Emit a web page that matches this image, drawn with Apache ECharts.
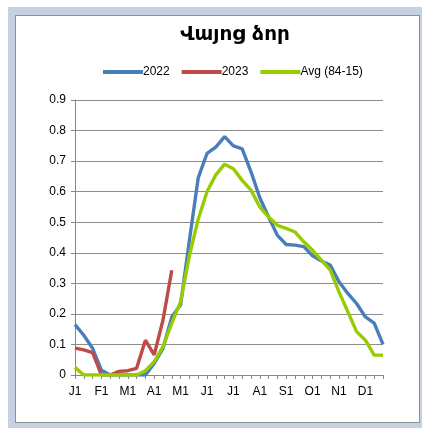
<!DOCTYPE html>
<html>
<head>
<meta charset="utf-8">
<script src="https://cdn.jsdelivr.net/npm/echarts@6/dist/echarts.min.js"></script>
<style>
  html, body { margin: 0; padding: 0; background: #ffffff; }
  #frame { position: absolute; left: 8px; top: 7px; width: 414px; height: 421px; background: #c6d1e1; }
  #panel { position: absolute; left: 15px; top: 15px; width: 403px; height: 406px; background: #ffffff; border: 1px solid #8e9297; }
  #chart { position: absolute; left: 0; top: 0; width: 422px; height: 428px; }
</style>
</head>
<body>
<div id="frame"></div>
<div id="panel"></div>
<div id="chart"></div>
<script>
const titleText = "Վայոց ձոր";
const categories = ["J1","J11","J21","F1","F11","F21","M1","M11","M21","A1","A11","A21",
                    "M1","M11","M21","J1","J11","J21","J1","J11","J21","A1","A11","A21",
                    "S1","S11","S21","O1","O11","O21","N1","N11","N21","D1","D11","D21"];
const yTicks = [0, 0.1, 0.2, 0.3, 0.4, 0.5, 0.6, 0.7, 0.8, 0.9];
const s2022 = [0.165,0.13,0.087,0.016,0,0,0,0,0,0.038,0.087,0.19,
               0.23,0.44,0.645,0.725,0.746,0.78,0.75,0.74,0.665,0.58,0.517,0.457,
               0.427,0.425,0.42,0.39,0.373,0.36,0.305,0.267,0.234,0.19,0.17,0.1];
const s2023 = [0.088,0.082,0.073,0,0,0.012,0.014,0.022,0.114,0.066,0.18,0.343];
const sAvg  = [0.025,0,0,0,0,0,0,0,0.014,0.044,0.093,0.17,
               0.24,0.39,0.51,0.6,0.655,0.69,0.675,0.637,0.605,0.55,0.517,0.49,
               0.48,0.468,0.436,0.408,0.376,0.343,0.272,0.207,0.142,0.114,0.065,0.065];
const names = ["2022", "2023", "Avg (84-15)"];
const colors = ["#4a7ebb", "#be4b48", "#99cc00"];

const chart = echarts.init(document.getElementById('chart'), null, {renderer: 'canvas'});
const font = "'Liberation Sans', Arial, sans-serif";
chart.setOption({
  animation: false,
  backgroundColor: 'transparent',
  title: {
    text: titleText,
    left: 230, top: 20, textAlign: 'center',
    textStyle: { fontFamily: "'DejaVu Sans', sans-serif", fontWeight: 'bold', fontSize: 20, color: '#000' }
  },
  legend: {
    left: 98, top: 61,
    itemWidth: 40, itemHeight: 4, itemGap: 12,
    icon: 'rect',
    data: names,
    textStyle: { fontFamily: font, fontSize: 12, color: '#000', padding: [0,0,0,-5] }
  },
  grid: { left: 75, top: 100, width: 308, height: 275, containLabel: false },
  xAxis: {
    type: 'category',
    data: categories,
    boundaryGap: false,
    axisLine: { lineStyle: { color: '#868686', width: 1 } },
    axisTick: { show: true, interval: 0, length: 4, lineStyle: { color: '#868686' } },
    axisLabel: { interval: 2, margin: 11, fontFamily: font, fontSize: 12, color: '#000' },
    splitLine: { show: false }
  },
  yAxis: {
    type: 'value',
    min: yTicks[0], max: yTicks[yTicks.length - 1], interval: 0.1,
    axisLine: { show: true, lineStyle: { color: '#868686', width: 1 } },
    axisTick: { show: true, length: 4, lineStyle: { color: '#868686' } },
    axisLabel: { margin: 9, fontFamily: font, fontSize: 12, color: '#000',
                 formatter: v => String(Math.round(v * 10) / 10) },
    splitLine: { show: true, lineStyle: { color: '#8c8c8c', width: 1 } }
  },
  series: [
    { name: names[0], type: 'line', data: s2022, showSymbol: false, symbol: 'none',
      lineStyle: { color: colors[0], width: 3.4 }, itemStyle: { color: colors[0] }, z: 2 },
    { name: names[1], type: 'line', data: s2023, showSymbol: false, symbol: 'none',
      lineStyle: { color: colors[1], width: 3.4 }, itemStyle: { color: colors[1] }, z: 3 },
    { name: names[2], type: 'line', data: sAvg, showSymbol: false, symbol: 'none',
      lineStyle: { color: colors[2], width: 3.4 }, itemStyle: { color: colors[2] }, z: 4 }
  ]
});
</script>
</body>
</html>
